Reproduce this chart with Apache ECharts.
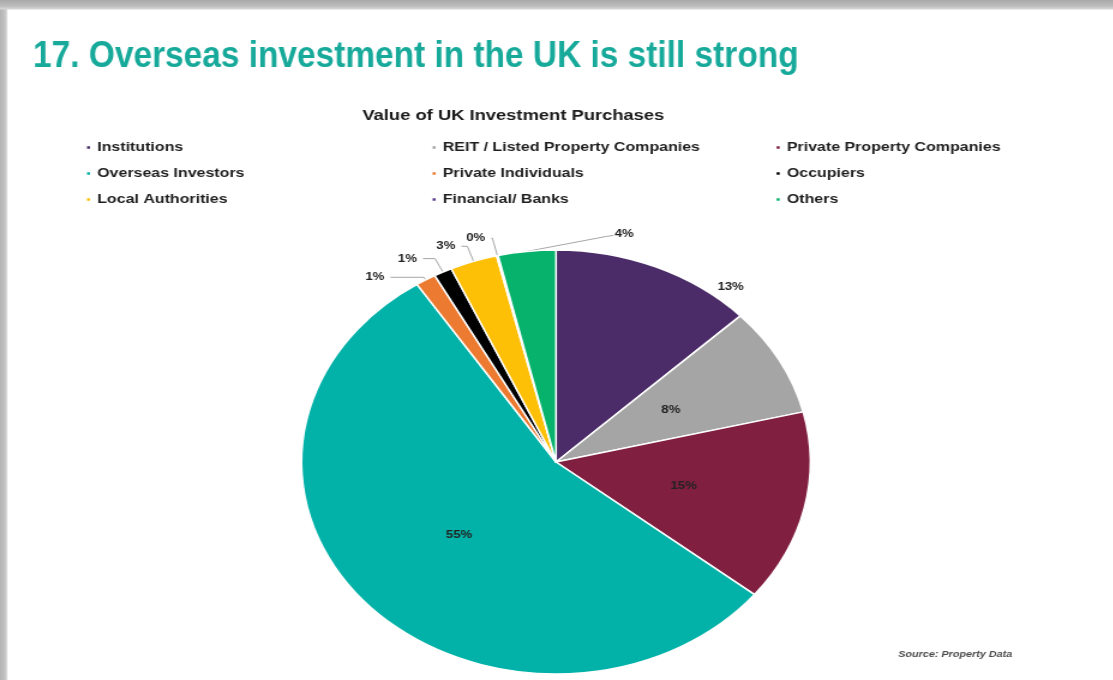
<!DOCTYPE html>
<html>
<head>
<meta charset="utf-8">
<script src="https://cdn.jsdelivr.net/npm/echarts/dist/echarts.min.js"></script>
<style>
html,body{margin:0;padding:0;background:#fff;overflow:hidden;}
#frame{position:relative;width:1113px;height:680px;overflow:hidden;
 background:
  linear-gradient(to bottom,#a9a9a9 0,#bcbcbc 6px,#d6d6d6 9px,rgba(255,255,255,0) 10px),
  linear-gradient(to right,#b3b3b3 0,#c3c3c3 5px,#dcdcdc 7px,rgba(255,255,255,0) 8px),
  #ffffff;}
#chart{position:absolute;left:0;top:0;width:927.5px;height:680px;transform:scaleX(1.2);transform-origin:0 0;}
</style>
</head>
<body>
<div id="frame"><div id="chart"></div></div>
<script>
// ---- data ----
const mainTitle = '17. Overseas investment in the UK is still strong';
const chartTitle = 'Value of UK Investment Purchases';
const sourceText = 'Source: Property Data';
const categories = ['Institutions', 'REIT / Listed Property Companies', 'Private Property Companies',
  'Overseas Investors', 'Private Individuals', 'Occupiers', 'Local Authorities', 'Financial/ Banks', 'Others'];
const values = [12.9, 8.3, 14.55, 55.05, 1.3, 1.15, 3.0, 0.1, 3.65];
const colors = ['#4b2c68', '#a5a5a5', '#811f41', '#02b2a8', '#ec7a30', '#000000', '#fdc006', '#5a3a8c', '#07b36c'];
const legendCol1 = ['Institutions', 'Overseas Investors', 'Local Authorities'];
const legendCol2 = ['REIT / Listed Property Companies', 'Private Individuals', 'Financial/ Banks'];
const legendCol3 = ['Private Property Companies', 'Occupiers', 'Others'];

// ---- styling / layout (unstretched coordinates; container is scaled 1.2 horizontally) ----
const FONT = '"Liberation Sans", Arial, sans-serif';
const labelPlacement = {
  0: {label: {position: 'outside'}, labelLine: {show: false, length: 0, length2: 0}},
  4: {label: {position: 'outside'}, labelLine: {show: true, length: 3, length2: 28}},
  5: {label: {position: 'outside'}, labelLine: {show: true, length: 15, length2: 10}},
  6: {label: {position: 'outside'}, labelLine: {show: true, length: 16, length2: 5}},
  7: {label: {position: 'outside'}, labelLine: {show: true, length: 18, length2: 1}},
  8: {label: {position: 'outside'}, labelLine: {show: true, length: 8, length2: 8}}
};
const labelShift = {0: {dx: 46, dy: 20}, 8: {dx: 103, dy: -9, relink: true}};

const chart = echarts.init(document.getElementById('chart'), null, {renderer: 'canvas'});

const legendBase = {
  orient: 'vertical', top: 139.5, itemGap: 10, itemWidth: 4.5, itemHeight: 4.5, icon: 'rect',
  padding: 0, selectedMode: false,
  textStyle: {fontSize: 13.3, fontWeight: 'bold', color: '#1e1e1e', fontFamily: FONT, lineHeight: 16}
};
const legendLefts = [70.5, 358.5, 645.2];
const legendCols = [legendCol1, legendCol2, legendCol3];

const option = {
  backgroundColor: 'transparent',
  animation: false,
  textStyle: {fontFamily: FONT},
  legend: legendCols.map((col, c) => Object.assign({}, legendBase, {left: legendLefts[c], data: col})),
  graphic: [
    {type: 'text', x: 27.5, y: 57, scaleX: 0.774,
      style: {text: mainTitle, font: 'bold 36px ' + FONT, fill: '#17a99a', textAlign: 'left', textVerticalAlign: 'middle'}},
    {type: 'text', x: 427.8, y: 115.5,
      style: {text: chartTitle, font: 'bold 15.3px ' + FONT, fill: '#1a1a1a', textAlign: 'center', textVerticalAlign: 'middle'}},
    {type: 'text', x: 748.6, y: 654.5,
      style: {text: sourceText, font: 'italic bold 9px ' + FONT, fill: '#4a4a4a', textAlign: 'left', textVerticalAlign: 'middle'}}
  ],
  series: [{
    type: 'pie',
    center: [463.3, 462],
    radius: 212,
    startAngle: 90,
    clockwise: true,
    avoidLabelOverlap: false,
    itemStyle: {borderColor: '#ffffff', borderWidth: 1.5},
    label: {
      show: true, position: 'inside',
      formatter: p => Math.round(p.percent) + '%',
      fontSize: 11, fontWeight: 'bold', color: '#222222', fontFamily: FONT
    },
    labelLine: {lineStyle: {color: '#a6a6a6', width: 1}},
    labelLayout: function (params) {
      const s = labelShift[params.dataIndex];
      if (!s) return {};
      const out = {dx: s.dx, dy: s.dy};
      if (s.relink && params.labelLinePoints) {
        const p0 = params.labelLinePoints[0];
        const r = params.labelRect;
        const ex = r.x + s.dx - 1;
        const ey = r.y + r.height / 2 + s.dy + 1;
        out.labelLinePoints = [[p0[0], p0[1]], [ex - 6, ey + 1], [ex, ey]];
      }
      return out;
    },
    emphasis: {disabled: true},
    data: categories.map((name, i) => Object.assign({
      name: name, value: values[i], itemStyle: {color: colors[i]}
    }, labelPlacement[i] || {}))
  }]
};
chart.setOption(option);
</script>
</body>
</html>
